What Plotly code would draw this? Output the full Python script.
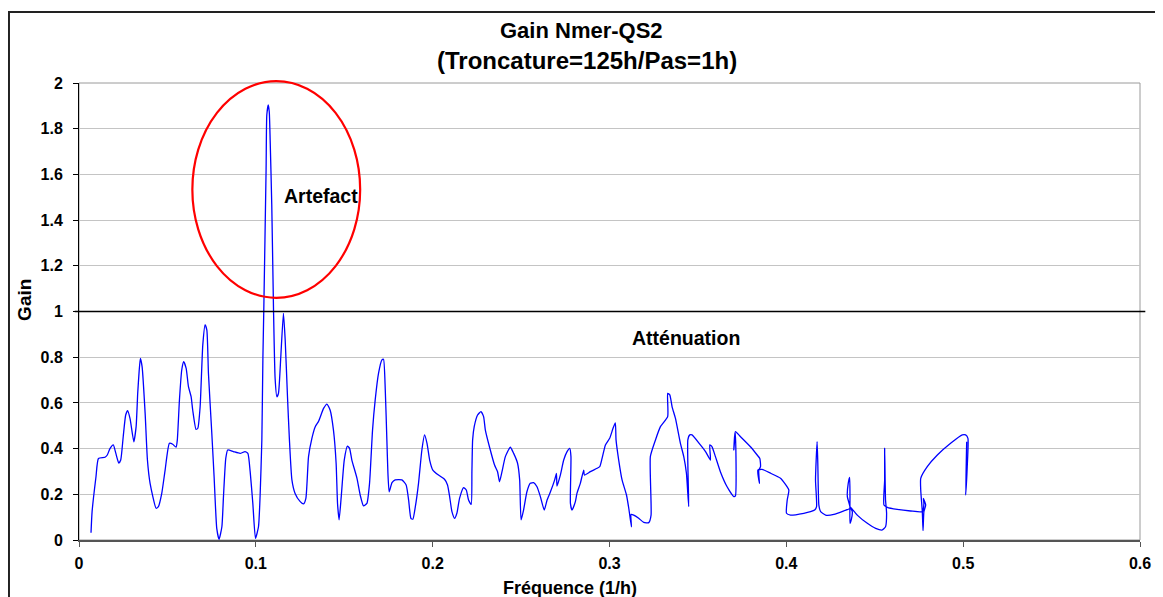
import plotly.graph_objects as go

# Gain curve (Excel smoothed scatter, it loops back on itself)
freq = [
    0.0068, 0.0074, 0.0096, 0.0110, 0.0147, 0.0160, 0.0175, 0.0194, 0.0208, 0.0225,
    0.0236, 0.0250, 0.0264, 0.0275, 0.0289, 0.0310, 0.0323, 0.0332, 0.0340, 0.0347,
    0.0357, 0.0374, 0.0387, 0.0402, 0.0436, 0.0449, 0.0468, 0.0487, 0.0511, 0.0530,
    0.0549, 0.0556, 0.0568, 0.0581, 0.0592, 0.0606, 0.0619, 0.0634, 0.0643, 0.0662,
    0.0672, 0.0685, 0.0700, 0.0713, 0.0723, 0.0732, 0.0751, 0.0764, 0.0779, 0.0792,
    0.0808, 0.0817, 0.0830, 0.0841, 0.0873, 0.0911, 0.0939, 0.0955, 0.0968, 0.0983,
    0.0998, 0.1015, 0.1024, 0.1034, 0.1040, 0.1045, 0.1058, 0.1062, 0.1070, 0.1076,
    0.1081, 0.1090, 0.1100, 0.1109, 0.1119, 0.1128, 0.1141, 0.1156, 0.1166, 0.1179,
    0.1190, 0.1204, 0.1222, 0.1251, 0.1270, 0.1283, 0.1298, 0.1317, 0.1336, 0.1354,
    0.1383, 0.1402, 0.1420, 0.1439, 0.1454, 0.1462, 0.1471, 0.1483, 0.1500, 0.1518,
    0.1530, 0.1543, 0.1572, 0.1590, 0.1609, 0.1628, 0.1643, 0.1660, 0.1675, 0.1694,
    0.1713, 0.1722, 0.1732, 0.1741, 0.1747, 0.1754, 0.1770, 0.1788, 0.1826, 0.1850,
    0.1864, 0.1877, 0.1888, 0.1902, 0.1920, 0.1939, 0.1954, 0.1968, 0.1983, 0.2001,
    0.2033, 0.2067, 0.2084, 0.2096, 0.2109, 0.2124, 0.2137, 0.2152, 0.2175, 0.2190,
    0.2203, 0.2218, 0.2222, 0.2226, 0.2235, 0.2254, 0.2273, 0.2288, 0.2298, 0.2326,
    0.2350, 0.2367, 0.2378, 0.2392, 0.2411, 0.2439, 0.2458, 0.2480, 0.2492, 0.2500,
    0.2514, 0.2533, 0.2552, 0.2571, 0.2590, 0.2609, 0.2631, 0.2647, 0.2666, 0.2690,
    0.2700, 0.2703, 0.2722, 0.2741, 0.2760, 0.2775, 0.2782, 0.2779, 0.2788, 0.2807,
    0.2816, 0.2835, 0.2854, 0.2858, 0.2892, 0.2930, 0.2945, 0.2958, 0.2977, 0.3001,
    0.3020, 0.3033, 0.3037, 0.3052, 0.3071, 0.3096, 0.3109, 0.3124, 0.3122, 0.3137,
    0.3165, 0.3194, 0.3222, 0.3235, 0.3231, 0.3260, 0.3288, 0.3329, 0.3329, 0.3341,
    0.3354, 0.3373, 0.3401, 0.3420, 0.3435, 0.3448, 0.3443, 0.3454, 0.3467, 0.3514,
    0.3543, 0.3571, 0.3567, 0.3580, 0.3599, 0.3627, 0.3665, 0.3703, 0.3712, 0.3712,
    0.3703, 0.3712, 0.3741, 0.3797, 0.3835, 0.3850, 0.3854, 0.3844, 0.3848, 0.3839,
    0.3863, 0.3911, 0.3967, 0.4014, 0.4005, 0.4001, 0.4024, 0.4099, 0.4137, 0.4160,
    0.4171, 0.4165, 0.4174, 0.4178, 0.4184, 0.4194, 0.4222, 0.4269, 0.4326, 0.4360,
    0.4345, 0.4350, 0.4358, 0.4360, 0.4360, 0.4367, 0.4373, 0.4360, 0.4401, 0.4458,
    0.4505, 0.4543, 0.4561, 0.4567, 0.4561, 0.4556, 0.4556, 0.4552, 0.4571, 0.4627,
    0.4703, 0.4769, 0.4778, 0.4775, 0.4788, 0.4778, 0.4773, 0.4769, 0.4760, 0.4760,
    0.4797, 0.4854, 0.4929, 0.4995, 0.5014, 0.5027, 0.5023, 0.5014, 0.5020,
]
gain = [
    0.032, 0.124, 0.277, 0.357, 0.362, 0.372, 0.400, 0.416, 0.380, 0.336,
    0.350, 0.452, 0.547, 0.566, 0.530, 0.430, 0.496, 0.642, 0.737, 0.795,
    0.758, 0.554, 0.350, 0.248, 0.139, 0.146, 0.204, 0.306, 0.423, 0.419,
    0.406, 0.438, 0.613, 0.744, 0.780, 0.751, 0.671, 0.627, 0.569, 0.484,
    0.489, 0.583, 0.853, 0.941, 0.919, 0.730, 0.467, 0.277, 0.051, 0.003,
    0.058, 0.190, 0.357, 0.394, 0.387, 0.379, 0.387, 0.379, 0.299, 0.160,
    0.007, 0.058, 0.190, 0.438, 0.800, 1.007, 1.620, 1.860, 1.904, 1.874,
    1.750, 1.470, 1.007, 0.708, 0.627, 0.642, 0.800, 0.992, 0.875, 0.627,
    0.438, 0.263, 0.204, 0.168, 0.158, 0.182, 0.365, 0.445, 0.496, 0.518,
    0.576, 0.595, 0.569, 0.481, 0.336, 0.160, 0.088, 0.190, 0.350, 0.411,
    0.401, 0.350, 0.270, 0.197, 0.149, 0.160, 0.248, 0.481, 0.613, 0.730,
    0.788, 0.791, 0.656, 0.438, 0.292, 0.211, 0.251, 0.263, 0.263, 0.241,
    0.175, 0.095, 0.091, 0.146, 0.248, 0.394, 0.460, 0.423, 0.350, 0.306,
    0.284, 0.266, 0.241, 0.190, 0.124, 0.095, 0.117, 0.182, 0.229, 0.219,
    0.175, 0.156, 0.300, 0.438, 0.496, 0.547, 0.562, 0.540, 0.481, 0.394,
    0.328, 0.299, 0.255, 0.299, 0.365, 0.406, 0.379, 0.336, 0.263, 0.088,
    0.131, 0.211, 0.248, 0.251, 0.233, 0.190, 0.131, 0.175, 0.211, 0.263,
    0.292, 0.236, 0.284, 0.350, 0.387, 0.401, 0.365, 0.160, 0.131, 0.168,
    0.204, 0.248, 0.306, 0.284, 0.299, 0.314, 0.321, 0.357, 0.416, 0.445,
    0.489, 0.513, 0.438, 0.350, 0.263, 0.197, 0.139, 0.058, 0.112, 0.109,
    0.095, 0.077, 0.076, 0.109, 0.365, 0.438, 0.496, 0.540, 0.642, 0.635,
    0.583, 0.532, 0.423, 0.365, 0.292, 0.146, 0.438, 0.460, 0.460, 0.416,
    0.387, 0.350, 0.416, 0.408, 0.365, 0.299, 0.233, 0.190, 0.193, 0.467,
    0.394, 0.474, 0.452, 0.408, 0.372, 0.357, 0.321, 0.306, 0.248, 0.306,
    0.309, 0.292, 0.270, 0.219, 0.175, 0.117, 0.109, 0.117, 0.124, 0.131,
    0.146, 0.263, 0.430, 0.336, 0.153, 0.124, 0.109, 0.112, 0.128, 0.139,
    0.190, 0.248, 0.274, 0.190, 0.073, 0.088, 0.124, 0.146, 0.109, 0.073,
    0.051, 0.044, 0.058, 0.117, 0.175, 0.401, 0.263, 0.153, 0.143, 0.134,
    0.127, 0.124, 0.160, 0.182, 0.153, 0.124, 0.041, 0.124, 0.219, 0.270,
    0.321, 0.372, 0.423, 0.460, 0.460, 0.445, 0.321, 0.197, 0.430,
]

x_ticks = [0, 0.1, 0.2, 0.3, 0.4, 0.5, 0.6]
y_ticks = [0, 0.2, 0.4, 0.6, 0.8, 1, 1.2, 1.4, 1.6, 1.8, 2]

FONT = "Liberation Sans, Arial, sans-serif"

fig = go.Figure()

fig.add_trace(go.Scatter(
    x=freq, y=gain,
    mode="lines",
    line=dict(color="#0000FF", width=1.3, shape="spline", smoothing=0.5),
    showlegend=False,
    hoverinfo="skip",
))

# plot area frame (grey top/right), attenuation limit and the artefact ellipse
fig.add_shape(type="rect", xref="paper", yref="paper", x0=0, x1=1, y0=0, y1=1,
              line=dict(color="#9a9a9a", width=1), layer="below")
fig.add_shape(type="line", xref="paper", yref="y", x0=-0.004, x1=1.005, y0=1, y1=1,
              line=dict(color="black", width=1.5))
fig.add_shape(type="circle", xref="x", yref="paper", x0=0.0641, x1=0.159, y0=0.530, y1=1.004,
              line=dict(color="#FF0000", width=2.2))
# outer chart border
fig.add_shape(type="rect", xref="paper", yref="paper", x0=-0.0660, x1=1.05, y0=-0.3, y1=1.1554,
              line=dict(color="#222222", width=2))


def label(text, x, y, size, xref="x", yref="y", angle=0):
    fig.add_annotation(text=f"<b>{text}</b>", x=x, y=y, xref=xref, yref=yref,
                       xanchor="center", yanchor="middle", textangle=angle, showarrow=False,
                       font=dict(family=FONT, size=size, color="black"))


label("Gain Nmer-QS2", 0.474, 1.1138, 22, "paper", "paper")
label("(Troncature=125h/Pas=1h)", 0.479, 1.0503, 24, "paper", "paper")
label("Artefact", 0.1366, 1.505, 19.5)
label("Atténuation", 0.3435, 0.884, 19.5)
label("Fréquence (1/h)", 0.463, -0.105, 18, "paper", "paper")
label("Gain", -0.052, 0.525, 19, "paper", "paper", angle=-90)

# the page has an 8px body margin, so the margins are shifted by 8px
fig.update_layout(
    width=1163, height=597,
    margin=dict(l=71, r=31, t=75, b=65),
    paper_bgcolor="white", plot_bgcolor="white",
    font=dict(family=FONT, color="black"),
)
fig.update_xaxes(
    range=[0, 0.6], tickvals=x_ticks, ticktext=[f"<b>{v:g}</b>" for v in x_ticks],
    showgrid=False, zeroline=False,
    showline=True, linecolor="#555555", linewidth=2,
    ticks="outside", ticklen=5, tickcolor="#555555",
    ticklabelstandoff=3,
    tickfont=dict(family=FONT, size=16),
)
fig.update_yaxes(
    range=[0, 2], tickvals=y_ticks, ticktext=[f"<b>{v:g}</b>" for v in y_ticks],
    showgrid=True, gridcolor="#c4c4c4", gridwidth=1, zeroline=False,
    showline=True, linecolor="black", linewidth=1,
    ticks="outside", ticklen=5, tickcolor="black",
    ticklabelstandoff=7,
    tickfont=dict(family=FONT, size=16),
)

fig.write_html("out.html")
